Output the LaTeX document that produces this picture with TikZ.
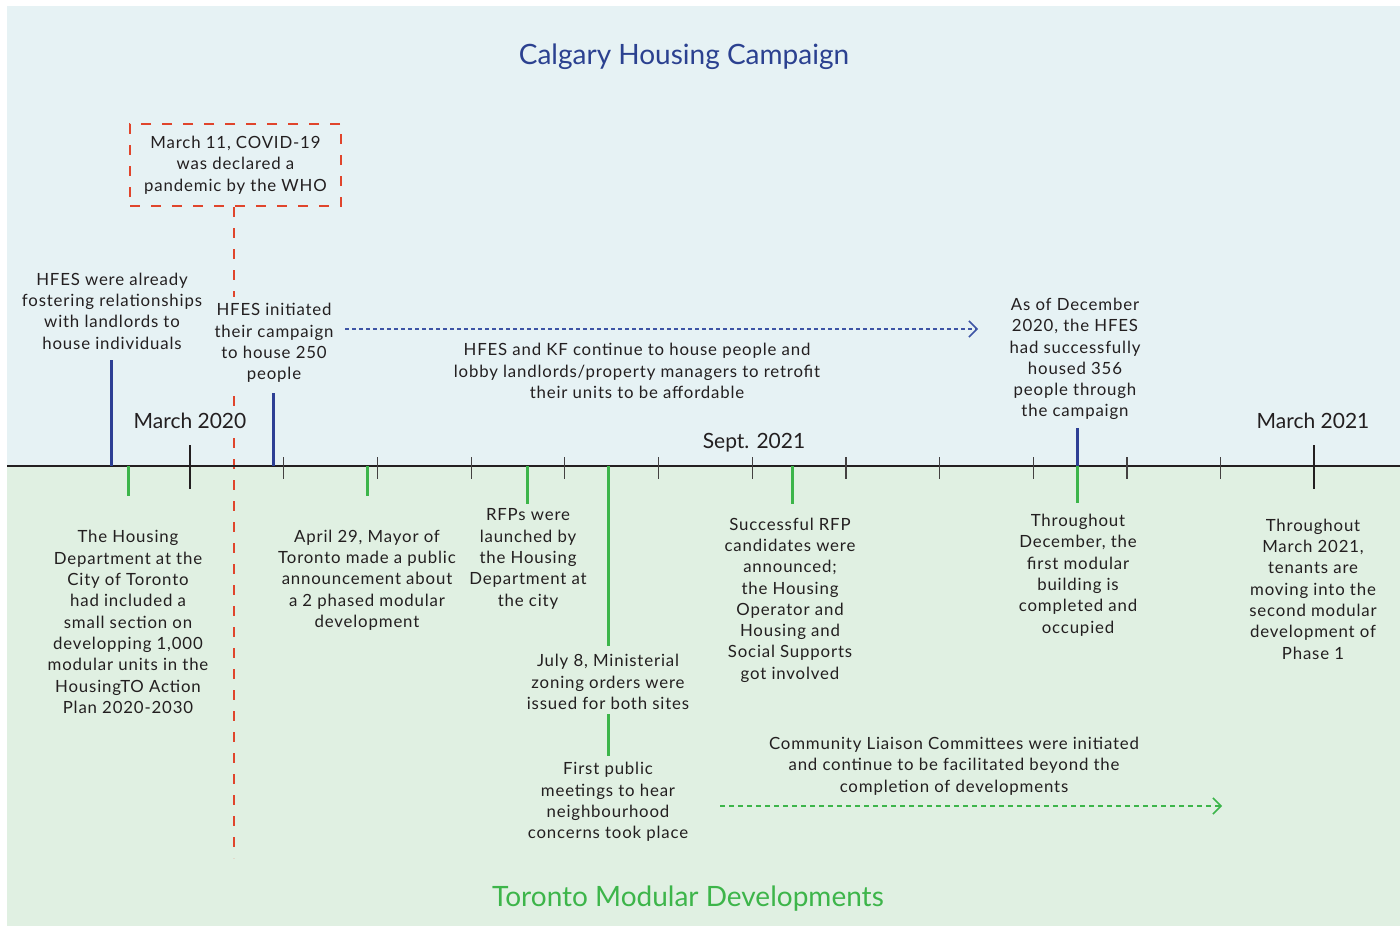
\documentclass[tikz,border=0pt]{standalone}
\usepackage{fontspec}
\setmainfont{Lato}
\newfontfamily\lblfont[LetterSpace=5]{Lato}
\usetikzlibrary{arrows.meta}
\definecolor{bgtop}{HTML}{E6F2F4}
\definecolor{bgbot}{HTML}{E0F0E2}
\definecolor{txt}{HTML}{231F20}
\definecolor{tblue}{HTML}{2B4190}
\definecolor{tgreen}{HTML}{3DB54A}
\definecolor{redd}{HTML}{E0452C}
\definecolor{barblue}{HTML}{2D3F94}
\definecolor{bargreen}{HTML}{3CB54A}
\definecolor{arrblue}{HTML}{3E55A5}
\tikzset{
  lbl/.style={align=center, inner sep=0pt, text=txt, font=\lblfont\fontsize{8.4}{10.65}\selectfont},
  datelbl/.style={inner sep=0pt, text=txt, font=\fontsize{10.5}{12}\selectfont},
  ttl/.style={inner sep=0pt, font=\fontsize{14}{16}\selectfont},
  bluebar/.style={draw=barblue, line width=1.5pt},
  greenbar/.style={draw=bargreen, line width=1.5pt},
  minortick/.style={draw=txt!85, line width=0.6pt},
  majortick/.style={draw=txt, line width=0.9pt},
  axisline/.style={draw=txt, line width=1pt},
  reddash/.style={draw=redd, line width=1.25pt, dash pattern=on 5pt off 5.5pt},
  bluearrow/.style={draw=arrblue, line width=0.75pt, dash pattern=on 2pt off 1.5pt, -{Straight Barb[length=4pt,width=8pt,line width=0.75pt]}},
  greenarrow/.style={draw=bargreen, line width=0.75pt, dash pattern=on 2.5pt off 2pt, -{Straight Barb[length=4pt,width=8pt,line width=0.75pt]}}
}
\begin{document}
\begin{tikzpicture}[x=0.5pt,y=-0.5pt]
\useasboundingbox (0,0) rectangle (1400,926);
\fill[bgtop] (7,6) rectangle (1400,466);
\fill[bgbot] (7,466) rectangle (1400,926);
% titles
\node[ttl, text=tblue] (ttop) at (684,57) {Calgary Housing Campaign};
\node[ttl, text=tgreen] (tbot) at (688,899) {Toronto Modular Developments};
% covid box and red line
\node[lbl, draw=redd, line width=1.25pt, dash pattern=on 5pt off 5.5pt, minimum width=105.5pt, minimum height=41pt] (covid) at (235.5,165) {March 11, COVID-19\\was declared a\\pandemic by the WHO};
\coordinate (redtop) at (234,207);
\coordinate (redbot) at (234,858);
\draw[reddash] (redtop) -- (redbot);
% axis
\coordinate (axL) at (7,466);
\coordinate (axR) at (1400,466);
\draw[axisline] (axL) -- (axR);
\foreach \k in {1,...,11} {
  \coordinate (mt\k a) at ({190+93.7*\k},457);
  \coordinate (mt\k b) at ({190+93.7*\k},479);
  \draw[minortick] (mt\k a) -- (mt\k b);
}
\coordinate (M20a) at (190,445); \coordinate (M20b) at (190,489);
\coordinate (M21a) at (1314,445); \coordinate (M21b) at (1314,489);
\draw[majortick] (M20a) -- (M20b);
\draw[majortick] (M21a) -- (M21b);
\node[datelbl, fill=bgtop, inner sep=1pt] (d20) at (190,421) {March 2020};
\node[datelbl] (d21) at (1313,421) {March 2021};
\node[datelbl] (dsep) at (754,443) {Sept. 2021};
% top labels
\node[lbl] (hfes1) at (112,311) {HFES were already\\fostering relationships\\with landlords to\\house individuals};
\node[lbl, fill=bgtop, inner sep=3pt] (hfes2) at (274,343) {HFES initiated\\their campaign\\to house 250\\people};
\node[lbl] (hfeskf) at (637,371) {HFES and KF continue to house people and\\lobby landlords/property managers to retrofit\\their units to be affordable};
\node[lbl] (dec20) at (1075,359) {As of December\\2020, the HFES\\had successfully\\housed 356\\people through\\the campaign};
% blue bars
\coordinate (b1t) at (111,360); \coordinate (b1b) at (111,466);
\coordinate (b2t) at (273,393); \coordinate (b2b) at (273,466);
\coordinate (b3t) at (1077,428); \coordinate (b3b) at (1077,466);
\draw[bluebar] (b1t) -- (b1b);
\draw[bluebar] (b2t) -- (b2b);
\draw[bluebar] (b3t) -- (b3b);
% blue arrow
\coordinate (ba1) at (345,329); \coordinate (ba2) at (978,329);
\draw[bluearrow] (ba1) -- (ba2);
% green bars
\coordinate (g1t) at (128,466); \coordinate (g1b) at (128,496);
\coordinate (g2t) at (367,466); \coordinate (g2b) at (367,496);
\coordinate (g3t) at (527,466); \coordinate (g3b) at (527,504);
\coordinate (g4t) at (608,466); \coordinate (g4b) at (608,646);
\coordinate (g5t) at (608,714); \coordinate (g5b) at (608,756);
\coordinate (g6t) at (792,466); \coordinate (g6b) at (792,504);
\coordinate (g7t) at (1077,466); \coordinate (g7b) at (1077,503);
\foreach \i in {1,...,7} { \draw[greenbar] (g\i t) -- (g\i b); }
% bottom labels
\node[lbl] (city) at (128,622) {The Housing\\Department at the\\City of Toronto\\had included a\\small section on\\developping 1,000\\modular units in the\\HousingTO Action\\Plan 2020-2030};
\node[lbl] (april) at (367,580) {April 29, Mayor of\\Toronto made a public\\announcement about\\a 2 phased modular\\development};
\node[lbl] (rfps) at (528,559) {RFPs were\\launched by\\the Housing\\Department at\\the city};
\node[lbl] (succ) at (790,600) {Successful RFP\\candidates were\\announced;\\the Housing\\Operator and\\Housing and\\Social Supports\\got involved};
\node[lbl] (july) at (608,682) {July 8, Ministerial\\zoning orders were\\issued for both sites};
\node[lbl] (first) at (608,802) {First public\\meetings to hear\\neighbourhood\\concerns took place};
\node[lbl] (clc) at (954,766) {Community Liaison Committees were initiated\\and continue to be facilitated beyond the\\completion of developments};
\node[lbl] (thrdec) at (1078,575) {Throughout\\December, the\\first modular\\building is\\completed and\\occupied};
\node[lbl] (thrmar) at (1313,589) {Throughout\\March 2021,\\tenants are\\moving into the\\second modular\\development of\\Phase 1};
% green arrow
\coordinate (ga1) at (720,806); \coordinate (ga2) at (1222,806);
\draw[greenarrow] (ga1) -- (ga2);
\end{tikzpicture}
\end{document}
